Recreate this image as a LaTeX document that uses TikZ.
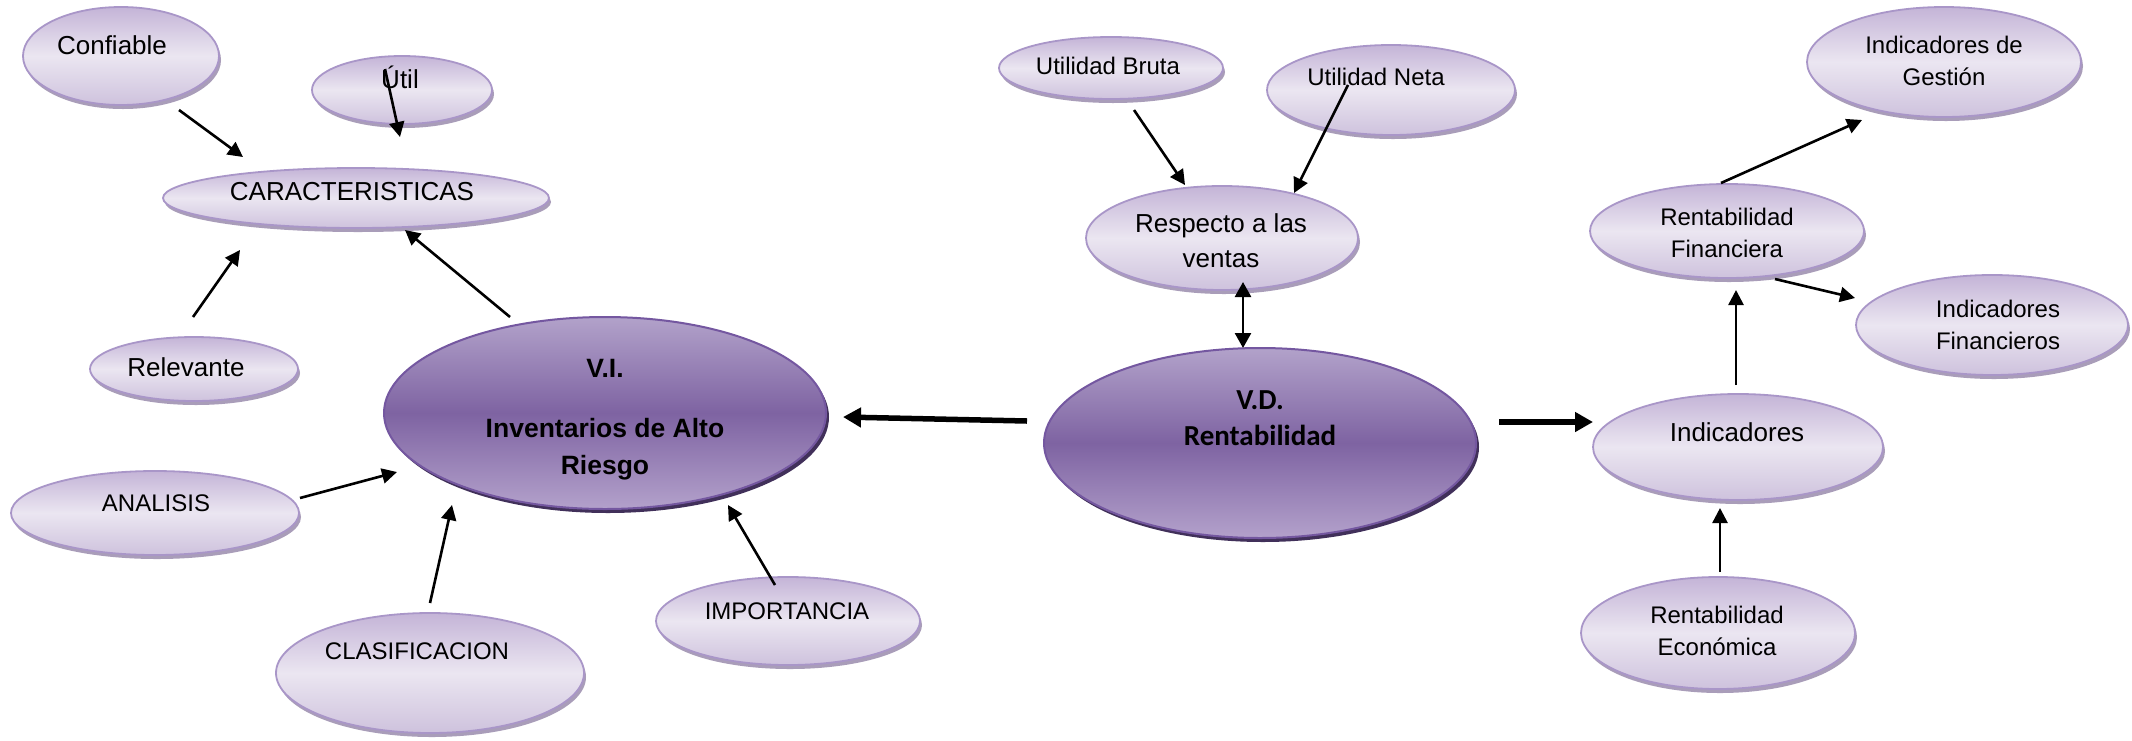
\documentclass[tikz,border=0pt]{standalone}
\usepackage{fontspec}
\setmainfont{Liberation Sans}
\newfontfamily\calib{Carlito}
\usetikzlibrary{arrows.meta,shapes.geometric,shadows}

\definecolor{bubbleTop}{HTML}{C4B4D7}
\definecolor{bubbleMid}{HTML}{EBE6F1}
\definecolor{bubbleBot}{HTML}{CEC2DD}
\definecolor{bubbleEdge}{HTML}{A996C8}
\definecolor{bubbleShade}{HTML}{A99DB9}
\definecolor{coreTop}{HTML}{B2A2CA}
\definecolor{coreMid}{HTML}{7E63A2}
\definecolor{coreBot}{HTML}{B3A1CB}
\definecolor{coreEdge}{HTML}{7457A0}
\definecolor{coreShade}{HTML}{41305A}

\tikzset{
  bubble/.style={ellipse, draw=bubbleEdge, line width=1.8pt,
    top color=bubbleTop, bottom color=bubbleBot, middle color=bubbleMid,
    inner sep=0pt, outer sep=0pt,
    drop shadow={shadow xshift=2pt, shadow yshift=-4pt, fill=bubbleShade, opacity=1}},
  core/.style={ellipse, draw=coreEdge, line width=2pt,
    top color=coreTop, bottom color=coreBot, middle color=coreMid,
    inner sep=0pt, outer sep=0pt,
    drop shadow={shadow xshift=3pt, shadow yshift=-4pt, fill=coreShade, opacity=1}},
  lbl/.style={font=\fontsize{26}{31}\selectfont, inner sep=0pt,
    text height=18.7pt, text depth=0pt, anchor=center},
  lbls/.style={lbl, font=\fontsize{24}{29}\selectfont, text height=17.2pt},
  lblvi/.style={lbl, font=\fontsize{26.5}{31}\selectfont\bfseries, text height=19pt},
  lblvd/.style={lbl, font=\calib\fontsize{29}{35}\selectfont\bfseries, text height=19pt},
  arr/.style={line width=2.6pt, -{Triangle[length=15pt,width=15pt]}},
  biarr/.style={line width=2.6pt, {Triangle[length=15pt,width=16pt]}-{Triangle[length=15pt,width=16pt]}},
  bigarr/.style={line width=5.5pt, -{Triangle[length=18pt,width=19pt]}}
}

\begin{document}
\begin{tikzpicture}[x=1pt,y=-1pt]
\fill[white] (0,0) rectangle (2132,740);
\useasboundingbox (0,0) rectangle (2132,740);

% ---- bubbles around V.I.
\node[bubble, minimum width=196pt, minimum height=98pt] (conf) at (121,56) {};
\node[bubble, minimum width=180pt, minimum height=68pt] (util) at (402,90) {};
\node[bubble, minimum width=386pt, minimum height=60pt] (car) at (356,198) {};
\node[bubble, minimum width=208pt, minimum height=64pt] (rel) at (194,369) {};
\node[bubble, minimum width=288pt, minimum height=84pt] (ana) at (155,513) {};
\node[bubble, minimum width=308pt, minimum height=120pt] (clas) at (430,673) {};
\node[bubble, minimum width=264pt, minimum height=88pt] (imp) at (788,621) {};

% ---- bubbles around V.D.
\node[bubble, minimum width=224pt, minimum height=62pt] (ub) at (1111,68) {};
\node[bubble, minimum width=248pt, minimum height=90pt] (un) at (1391,90) {};
\node[bubble, minimum width=272pt, minimum height=104pt] (resp) at (1222,238) {};
\node[bubble, minimum width=274pt, minimum height=94pt] (rf) at (1727,231) {};
\node[bubble, minimum width=274pt, minimum height=110pt] (ig) at (1944,62) {};
\node[bubble, minimum width=272pt, minimum height=100pt] (if) at (1992,325) {};
\node[bubble, minimum width=290pt, minimum height=106pt] (ind) at (1738,447) {};
\node[bubble, minimum width=274pt, minimum height=112pt] (re) at (1718,633) {};

% ---- the two central variables
\node[core, minimum width=442pt, minimum height=192pt] (vi) at (605,413) {};
\node[core, minimum width=432pt, minimum height=190pt] (vd) at (1260,443) {};

% ---- labels
\node[lbl] (conf-t) at (112,45) {Confiable};
\node[lbl] (util-t) at (400,79) {Útil};
\node[lbl] (car-t) at (352,191) {CARACTERISTICAS};
\node[lbl] (rel-t) at (186,367) {Relevante};
\node[lbls] (ana-t) at (156,503) {ANALISIS};
\node[lbls] (clas-t) at (417,651) {CLASIFICACION};
\node[lbls] (imp-t) at (787,611) {IMPORTANCIA};

\node[lblvi] (vi-t1) at (605,368) {V.I.};
\node[lblvi] (vi-t2) at (605,428) {Inventarios de Alto};
\node[lblvi] (vi-t3) at (605,465) {Riesgo};

\node[lblvd] (vd-t1) at (1260,400) {V.D.};
\node[lblvd] (vd-t2) at (1260,436) {Rentabilidad};

\node[lbls] (ub-t) at (1108,66) {Utilidad Bruta};
\node[lbls] (un-t) at (1376,77) {Utilidad Neta};
\node[lbl] (resp-t1) at (1221,223) {Respecto a las};
\node[lbl] (resp-t2) at (1221,258) {ventas};
\node[lbls] (ig-t1) at (1944,45) {Indicadores de};
\node[lbls] (ig-t2) at (1944,77) {Gestión};
\node[lbls] (rf-t1) at (1727,217) {Rentabilidad};
\node[lbls] (rf-t2) at (1727,249) {Financiera};
\node[lbls] (if-t1) at (1998,309) {Indicadores};
\node[lbls] (if-t2) at (1998,341) {Financieros};
\node[lbl] (ind-t) at (1737,432) {Indicadores};
\node[lbls] (re-t1) at (1717,615) {Rentabilidad};
\node[lbls] (re-t2) at (1717,647) {Económica};

% ---- connector end points
\coordinate (conf-o) at (179,110);  \coordinate (car-i1) at (243,157);
\coordinate (util-o) at (385,69);   \coordinate (car-i2) at (400,137);
\coordinate (vi-o)   at (510,317);  \coordinate (car-i3) at (405,230);
\coordinate (rel-o)  at (193,317);  \coordinate (car-i4) at (240,250);
\coordinate (ana-o)  at (300,498);  \coordinate (vi-i1)  at (397,472);
\coordinate (clas-o) at (430,603);  \coordinate (vi-i2)  at (452,505);
\coordinate (imp-o)  at (775,585);  \coordinate (vi-i3)  at (728,505);
\coordinate (vd-o1)  at (1027,421); \coordinate (vi-i4)  at (843,417);
\coordinate (vd-o2)  at (1243,348); \coordinate (resp-i1) at (1243,282);
\coordinate (ub-o)   at (1134,110); \coordinate (resp-i2) at (1185,185);
\coordinate (un-o)   at (1348,85);  \coordinate (resp-i3) at (1294,193);
\coordinate (vd-o3)  at (1499,422); \coordinate (ind-i1) at (1593,422);
\coordinate (ind-o)  at (1736,385); \coordinate (rf-i)   at (1736,290);
\coordinate (rf-o1)  at (1721,183); \coordinate (ig-i)   at (1862,120);
\coordinate (rf-o2)  at (1775,279); \coordinate (if-i)   at (1855,298);
\coordinate (re-o)   at (1720,572); \coordinate (ind-i2) at (1720,508);

% ---- connectors
\draw[arr] (conf-o) -- (car-i1);
\draw[arr] (util-o) -- (car-i2);
\draw[arr] (vi-o) -- (car-i3);
\draw[arr] (rel-o) -- (car-i4);
\draw[arr] (ana-o) -- (vi-i1);
\draw[arr] (clas-o) -- (vi-i2);
\draw[arr] (imp-o) -- (vi-i3);
\draw[bigarr] (vd-o1) -- (vi-i4);
\draw[biarr] (vd-o2) -- (resp-i1);
\draw[arr] (ub-o) -- (resp-i2);
\draw[arr] (un-o) -- (resp-i3);
\draw[bigarr] (vd-o3) -- (ind-i1);
\draw[arr] (ind-o) -- (rf-i);
\draw[arr] (rf-o1) -- (ig-i);
\draw[arr] (rf-o2) -- (if-i);
\draw[arr] (re-o) -- (ind-i2);
\end{tikzpicture}
\end{document}
